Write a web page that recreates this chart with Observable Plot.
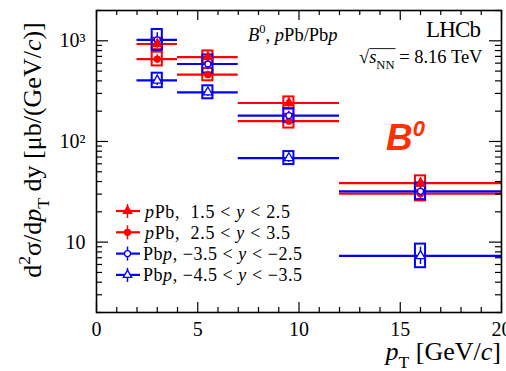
<!DOCTYPE html>
<html>
<head>
<meta charset="utf-8">
<script src="https://cdn.jsdelivr.net/npm/d3@7"></script>
<script src="https://cdn.jsdelivr.net/npm/@observablehq/plot@0.6"></script>
<style>
  body { margin: 0; background: #fff; }
  #chart svg { display: block; }
  text { white-space: pre; }
</style>
</head>
<body>
<div id="chart"></div>
<script>
// pT bins [GeV/c]
const binLow = [2, 4, 7, 12];
const binHigh = [4, 7, 12, 20];
const binCentre = [3, 5.5, 9.5, 16];

// B0 double-differential cross-section [μb/(GeV/c)] for each rapidity interval
const xsecPPbFwdLow = [930, 690, 241, 38.6];   // pPb, 1.5 < y < 2.5
const xsecPPbFwdHigh = [659, 461, 159, 30.3];  // pPb, 2.5 < y < 3.5
const xsecPbpBwdLow = [1020, 588, 181, 32.0];  // Pbp, -3.5 < y < -2.5
const xsecPbpBwdHigh = [404, 308, 68.4, 7.3];  // Pbp, -4.5 < y < -3.5

// relative statistical uncertainties
const statPPbFwdLow = [0.10, 0.09, 0.10, 0.12];
const statPPbFwdHigh = [0.10, 0.08, 0.08, 0.12];
const statPbpBwdLow = [0.18, 0.14, 0.10, 0.14];
const statPbpBwdHigh = [0.12, 0.10, 0.10, 0.22];

// relative systematic uncertainties
const systPPbFwdLow = [0.14, 0.15, 0.15, 0.18];
const systPPbFwdHigh = [0.17, 0.15, 0.17, 0.18];
const systPbpBwdLow = [0.27, 0.23, 0.17, 0.21];
const systPbpBwdHigh = [0.18, 0.16, 0.16, 0.31];

const seriesColor = ["#ff0000", "#ff0000", "#0000ff", "#0000ff"];
const seriesSymbol = ["triangle", "circle", "circle", "triangle"];
const seriesFilled = [true, true, false, false];

// axis ticks and labels
const xTicks = [0, 5, 10, 15, 20];
const xTickLabels = ["0", "5", "10", "15", "20"];
const xMinorTicks = [1, 2, 3, 4, 6, 7, 8, 9, 11, 12, 13, 14, 16, 17, 18, 19];
const yTicks = [10, 100, 1000];
const yTickLabels = ["10", "10²", "10³"];
const yMinorTicks = [2, 3, 4, 5, 6, 7, 8, 9, 20, 30, 40, 50, 60, 70, 80, 90,
                     200, 300, 400, 500, 600, 700, 800, 900, 2000];

const values = [xsecPPbFwdLow, xsecPPbFwdHigh, xsecPbpBwdLow, xsecPbpBwdHigh];
const stats = [statPPbFwdLow, statPPbFwdHigh, statPbpBwdLow, statPbpBwdHigh];
const systs = [systPPbFwdLow, systPPbFwdHigh, systPbpBwdLow, systPbpBwdHigh];

const rows = [];
values.forEach((vals, s) => vals.forEach((v, i) => rows.push({
  s, v, lo: binLow[i], hi: binHigh[i], mid: binCentre[i],
  stat: stats[s][i], syst: systs[s][i],
  color: seriesColor[s], symbol: seriesSymbol[s], filled: seriesFilled[s]
})));

const W = 506, H = 371;
const mL = 96, mR = 5, mT = 10, mB = 59;
const innerW = W - mL - mR, innerH = H - mT - mB;
const boxHalf = 0.25;
const serif = "'Liberation Serif', 'Times New Roman', serif";

const plot = Plot.plot({
  width: W, height: H,
  marginLeft: mL, marginRight: mR, marginTop: mT, marginBottom: mB,
  style: { fontFamily: serif, background: "white", overflow: "hidden" },
  x: { domain: [0, 20] },
  y: { type: "log", domain: [2, 2000] },
  color: { type: "identity" },
  marks: [
    // horizontal bars spanning each pT bin
    Plot.ruleY(rows, { y: "v", x1: "lo", x2: "hi", stroke: "color", strokeWidth: 2.2 }),
    // systematic uncertainty boxes
    Plot.rect(rows, {
      x1: d => d.mid - boxHalf, x2: d => d.mid + boxHalf,
      y1: d => d.v / (1 + d.syst), y2: d => d.v * (1 + d.syst),
      stroke: "color", fill: "none", strokeWidth: 2
    }),
    // statistical error bars
    Plot.ruleX(rows, {
      x: "mid", y1: d => d.v / (1 + d.stat), y2: d => d.v * (1 + d.stat),
      stroke: "color", strokeWidth: 1.5
    }),
    // markers
    Plot.dot(rows.filter(d => d.symbol === "circle"), {
      x: "mid", y: "v", r: 3, symbol: "circle",
      stroke: "color", fill: d => d.filled ? d.color : "white", strokeWidth: 1.3
    }),
    Plot.dot(rows.filter(d => d.symbol === "triangle"), {
      x: "mid", y: "v", r: 3.4, symbol: "triangle",
      stroke: "color", fill: d => d.filled ? d.color : "white", strokeWidth: 1.3
    }),
    // inward tick marks on all four sides
    Plot.tickX(xTicks, { x: d => d, insetTop: innerH - 10, strokeWidth: 1.2 }),
    Plot.tickX(xMinorTicks, { x: d => d, insetTop: innerH - 5, strokeWidth: 1.2 }),
    Plot.tickX(xTicks, { x: d => d, insetBottom: innerH - 10, strokeWidth: 1.2 }),
    Plot.tickX(xMinorTicks, { x: d => d, insetBottom: innerH - 5, strokeWidth: 1.2 }),
    Plot.tickY(yTicks, { y: d => d, insetRight: innerW - 12, strokeWidth: 1.2 }),
    Plot.tickY(yMinorTicks, { y: d => d, insetRight: innerW - 6, strokeWidth: 1.2 }),
    Plot.tickY(yTicks, { y: d => d, insetLeft: innerW - 12, strokeWidth: 1.2 }),
    Plot.tickY(yMinorTicks, { y: d => d, insetLeft: innerW - 6, strokeWidth: 1.2 }),
    Plot.frame({ stroke: "black", strokeWidth: 1.6 }),
    // tick labels
    Plot.axisX(xTicks, {
      tickSize: 0, tickPadding: 9, fontSize: 20, label: null,
      tickFormat: d => xTickLabels[xTicks.indexOf(d)]
    }),
    Plot.axisY(yTicks, {
      tickSize: 0, tickPadding: 11, fontSize: 20, label: null,
      tickFormat: d => yTickLabels[yTicks.indexOf(d)]
    })
  ]
});

document.getElementById("chart").appendChild(plot);
const svg = d3.select(plot);

// rich text helper: parts with italic / superscript / subscript spans
function rich(parent, parts, size) {
  const text = parent.append("text").style("font-size", size + "px").attr("fill", "black");
  let shift = 0;
  for (const p of parts) {
    let target = 0, fs = size;
    if (p.sup) { target = -0.42 * size; fs = 0.68 * size; }
    if (p.sub) { target = 0.3 * size; fs = 0.68 * size; }
    const ts = text.append("tspan").text(p.t).style("font-size", fs + "px");
    if (target !== shift) ts.attr("dy", target - shift);
    if (p.i) ts.style("font-style", "italic");
    shift = target;
  }
  return text;
}

const g = svg.append("g").style("font-family", serif).attr("text-anchor", "start");

// axis titles
rich(g, [{ t: "p", i: true }, { t: "T", sub: true }, { t: " [GeV/" }, { t: "c", i: true }, { t: "]" }], 26)
  .attr("text-anchor", "end").attr("x", mL + innerW).attr("y", 360);

rich(g, [{ t: "d" }, { t: "2", sup: true }, { t: "σ/d" }, { t: "p", i: true }, { t: "T", sub: true },
         { t: " dy [μb/(GeV/" }, { t: "c", i: true }, { t: ")]" }], 26)
  .attr("text-anchor", "middle").attr("transform", "translate(41,150) rotate(-90)");

// header annotations
rich(g, [{ t: "B", i: true }, { t: "0", sup: true }, { t: ", " }, { t: "p", i: true }, { t: "Pb/Pb" }, { t: "p", i: true }], 18.5)
  .attr("x", 248).attr("y", 41);

g.append("text").style("font-size", "23px").attr("text-anchor", "end")
  .attr("x", 481).attr("y", 37).attr("textLength", 55).text("LHCb");

const sq = rich(g, [{ t: "√" }, { t: "s", i: true }, { t: "NN", sub: true }, { t: " = 8.16 TeV" }], 18.5)
  .attr("x", 359).attr("y", 63);
{
  const tsp = sq.selectAll("tspan").nodes();
  const rad = tsp[0].getBBox(), nn = tsp[2].getBBox();
  g.append("line")
    .attr("x1", rad.x + rad.width - 0.6).attr("x2", nn.x + nn.width + 1)
    .attr("y1", rad.y + 1.6).attr("y2", rad.y + 1.6)
    .attr("stroke", "black").attr("stroke-width", 0.9);
}

// big B0 label
const big = g.append("text").style("font-family", "'Liberation Sans', Arial, sans-serif")
  .style("font-weight", "bold").style("font-style", "italic").attr("fill", "#ff3000")
  .attr("x", 386).attr("y", 150);
big.append("tspan").style("font-size", "37px").text("B");
big.append("tspan").style("font-size", "22px").attr("dy", -14).text("0");

// legend
const legendLabels = [
  [{ t: "p", i: true }, { t: "Pb,  1.5 < " }, { t: "y", i: true }, { t: " < 2.5" }],
  [{ t: "p", i: true }, { t: "Pb,  2.5 < " }, { t: "y", i: true }, { t: " < 3.5" }],
  [{ t: "Pb" }, { t: "p", i: true }, { t: ", −3.5 < " }, { t: "y", i: true }, { t: " < −2.5" }],
  [{ t: "Pb" }, { t: "p", i: true }, { t: ", −4.5 < " }, { t: "y", i: true }, { t: " < −3.5" }]
];
const legendTextX = [145, 145, 143, 143];
const legendTextLen = [145, 145, 159, 159];
legendLabels.forEach((parts, s) => {
  const cy = 211 + s * 21.3;
  const lg = g.append("g");
  lg.append("line").attr("x1", 116).attr("x2", 140).attr("y1", cy).attr("y2", cy)
    .attr("stroke", seriesColor[s]).attr("stroke-width", 2.2);
  lg.append("line").attr("x1", 127.5).attr("x2", 127.5).attr("y1", cy - 7).attr("y2", cy + 7)
    .attr("stroke", seriesColor[s]).attr("stroke-width", 1.5);
  const sym = seriesSymbol[s] === "circle" ? d3.symbolCircle : d3.symbolTriangle;
  const area = seriesSymbol[s] === "circle" ? Math.PI * 9 : 30;
  lg.append("path").attr("d", d3.symbol(sym, area)())
    .attr("transform", `translate(127.5,${cy})`)
    .attr("fill", seriesFilled[s] ? seriesColor[s] : "white")
    .attr("stroke", seriesColor[s]).attr("stroke-width", 1.3);
  rich(lg, parts, 18).attr("x", legendTextX[s]).attr("y", cy + 6.5)
    .attr("textLength", legendTextLen[s]);
});
</script>
</body>
</html>
